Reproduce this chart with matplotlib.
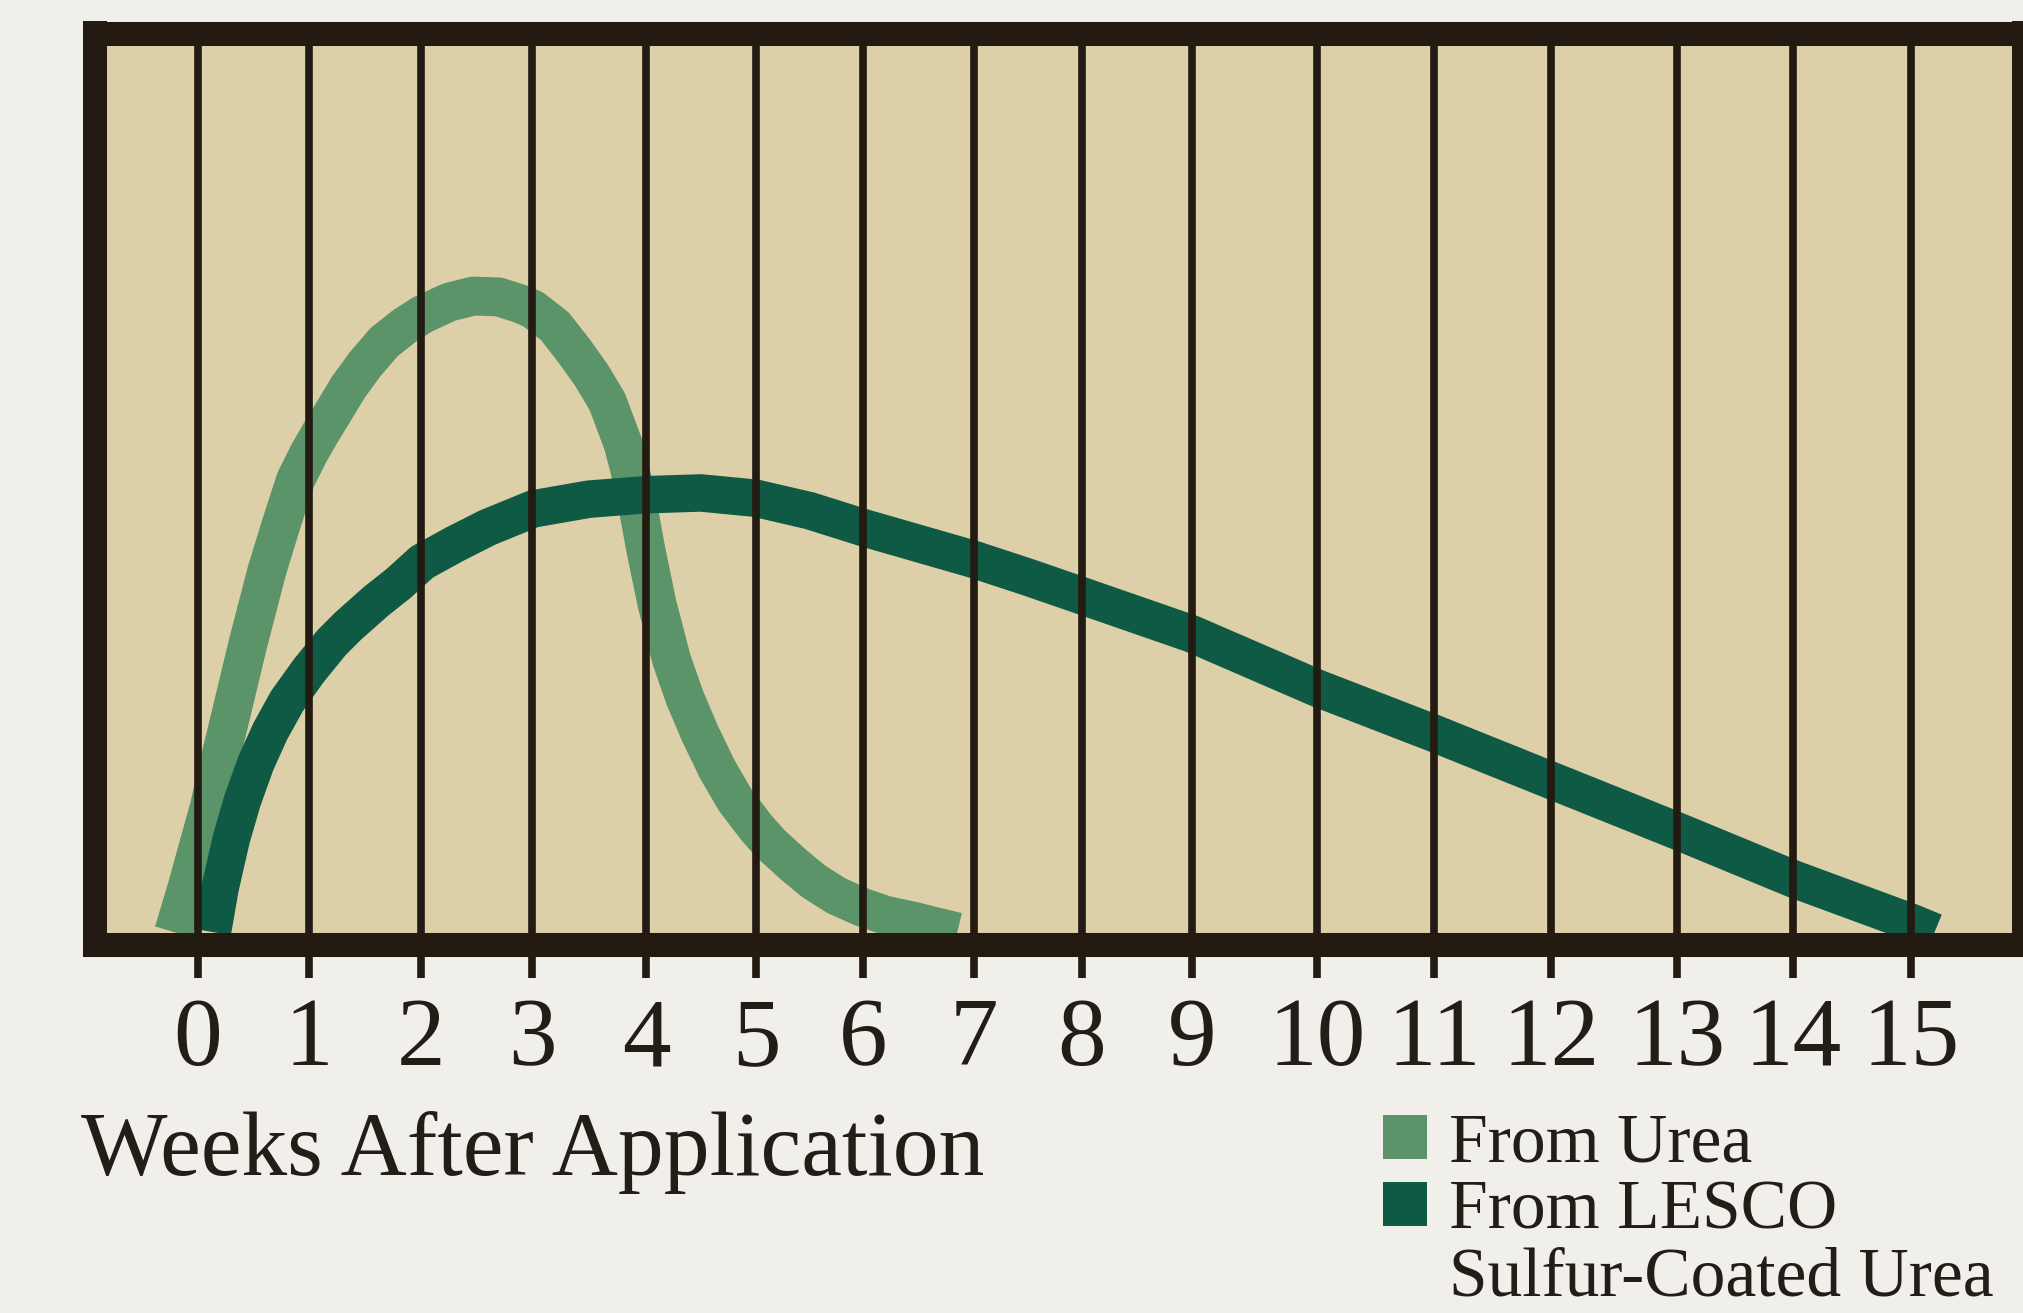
import numpy as np
import matplotlib
matplotlib.use("Agg")
import matplotlib.pyplot as plt
from matplotlib.lines import Line2D

# ---------------- data ----------------
week_ticks = list(range(16))
tick_labels = [str(w) for w in week_ticks]

urea_weeks = [-0.22, -0.1, 0.0, 0.1, 0.2, 0.31, 0.45, 0.62, 0.75, 0.88, 1.0, 1.10,
              1.25, 1.35, 1.5, 1.67, 1.85, 2.01, 2.25, 2.47, 2.7, 2.9, 3.01, 3.2,
              3.37, 3.52, 3.66, 3.8, 3.9, 4.0, 4.1, 4.23, 4.35, 4.49, 4.65, 4.81,
              5.0, 5.14, 5.35, 5.54, 5.75, 5.99, 6.2, 6.46, 6.65, 6.85]
urea_vals = [0, 5.0, 9.5, 14.0, 19.5, 25.2, 32.5, 40.7, 46.0, 51.0, 54.0, 56.2,
             59.3, 61.4, 64.0, 66.5, 68.3, 69.6, 71.0, 71.7, 71.6, 70.8, 70.2, 68.3,
             65.5, 62.8, 59.8, 55.0, 50.0, 43.0, 37.0, 30.8, 26.5, 22.4, 18.3, 14.9,
             11.8, 9.9, 7.6, 5.7, 4.1, 2.8, 1.9, 1.2, 0.6, 0]

lesco_weeks = [0.13, 0.2, 0.3, 0.40, 0.52, 0.65, 0.8, 1.0, 1.2, 1.35, 1.6, 1.8,
               2.01, 2.3, 2.6, 3.01, 3.5, 4.0, 4.5, 5.0, 5.5, 6.0, 6.5, 7.0, 7.5,
               8.0, 9.0, 10.0, 11.0, 12.0, 13.0, 14.0, 15.0, 15.2]
lesco_vals = [0, 5.0, 10.5, 14.8, 19.0, 22.6, 26.0, 29.5, 32.6, 34.5, 37.3, 39.3,
              41.7, 43.7, 45.6, 47.7, 48.8, 49.3, 49.5, 48.9, 47.5, 45.6, 43.8, 42.0,
              40.0, 37.9, 33.6, 27.5, 22.4, 17.1, 11.4, 6.0, 1.1, 0]

legend_labels = ["From Urea", "From LESCO", "Sulfur-Coated Urea"]
x_label = "Weeks After Application"

# ---------------- style / layout ----------------
PAGE = "#f1efea"
TAN = "#ddd0a8"
LIGHT = "#5a9468"
DARK = "#0e5a45"
INK = "#231a12"
TXT = "#231d18"

W, H = 2024, 1313
# irregular hand-drawn week spacing (pixel positions of the week lines)
GRID_WK = [-1] + week_ticks + [16]
GRID_PX = [87.6, 198, 309, 421, 532, 646, 756, 863, 974, 1082, 1192,
           1317, 1434, 1551, 1677, 1793, 1911, 2029]


def fwd(x):
    return np.interp(x, GRID_WK, GRID_PX)


def inv(p):
    return np.interp(p, GRID_PX, GRID_WK)


plt.rcParams["font.family"] = ["Liberation Serif", "DejaVu Serif"]

fig = plt.figure(figsize=(W / 100, H / 100), dpi=100, facecolor=PAGE)
ax_l, ax_r, ax_t, ax_b = 95.5, 2023.7, 33.5, 945.0
ax = fig.add_axes([ax_l / W, 1 - ax_b / H, (ax_r - ax_l) / W, (ax_b - ax_t) / H])
ax.set_facecolor(TAN)
ax.set_xscale("function", functions=(fwd, inv))
ax.set_xlim(float(inv(ax_l)), float(inv(ax_r)))
ax.set_ylim(-1.466, 101.30)

ax.plot(urea_weeks, urea_vals, color=LIGHT, lw=28, solid_joinstyle="round",
        solid_capstyle="butt", zorder=2)
ax.plot(lesco_weeks, lesco_vals, color=DARK, lw=27, solid_joinstyle="round",
        solid_capstyle="butt", zorder=2.1)

ax.set_xticks(week_ticks, tick_labels)
ax.set_axisbelow(False)
ax.grid(axis="x", color=INK, lw=5.5)
ax.grid(axis="y", visible=False)
ax.tick_params(axis="x", direction="out", length=23.8, width=5.5, color=INK,
               pad=14, labelsize=70, labelcolor=TXT)
ax.tick_params(axis="y", left=False, labelleft=False)
for s in ax.spines.values():
    s.set_linewidth(17.3)
    s.set_color(INK)
    s.set_capstyle("projecting")
    s.set_zorder(4)

ax.set_xlabel(x_label, fontsize=66, color=TXT, ha="left", va="baseline")
ax.xaxis.set_label_coords((81 - ax_l) / (ax_r - ax_l), (ax_b - 1175) / (ax_b - ax_t))

h1 = Line2D([], [], ls="none", marker="s", ms=31, mew=0, color=LIGHT)
h2 = Line2D([], [], ls="none", marker="s", ms=31, mew=0, color=DARK)
h3 = Line2D([], [], ls="none")
fig.legend([h1, h2, h3], legend_labels, loc="upper left",
           bbox_to_anchor=(1369.6 / W, 1 - 1113.0 / H), frameon=False,
           fontsize=50, handlelength=1.02, handletextpad=0.13, labelspacing=0.05,
           borderpad=0, borderaxespad=0, numpoints=1, labelcolor=TXT)

fig.savefig("out.png", dpi=100, facecolor=PAGE)
